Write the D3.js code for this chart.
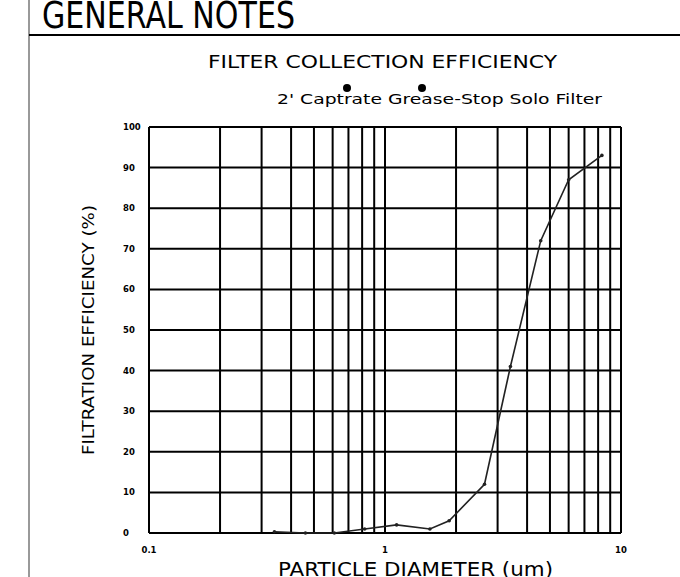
<!DOCTYPE html>
<html>
<head>
<meta charset="utf-8">
<script src="https://cdn.jsdelivr.net/npm/d3@7"></script>
<style>
  body { margin: 0; background: #fff; }
  svg { display: block; }
  text { font-family: "DejaVu Sans", sans-serif; fill: #000; }
</style>
</head>
<body>
<script>
// Define SVG area dimensions
var svgWidth = 680;
var svgHeight = 577;

// chart data
var particleSize = [0.34, 0.46, 0.61, 0.82, 1.12, 1.55, 1.87, 2.64, 3.4, 4.57, 6.0, 8.3];
var efficiency = [0.3, 0, 0, 1, 2, 1, 3, 12, 41, 72, 87, 93];
var xTickLabels = [0.1, 1, 10];
var yTickLabels = [0, 10, 20, 30, 40, 50, 60, 70, 80, 90, 100];

// plot box
var plot = { left: 149, right: 621, top: 127, bottom: 533 };

var svg = d3.select("body")
  .append("svg")
  .attr("width", svgWidth)
  .attr("height", svgHeight);

// page frame (drawing sheet border)
svg.append("line")
  .attr("x1", 29).attr("x2", 29)
  .attr("y1", 0).attr("y2", svgHeight)
  .attr("stroke", "#777").attr("stroke-width", 1.5);
svg.append("line")
  .attr("x1", 29).attr("x2", svgWidth)
  .attr("y1", 35).attr("y2", 35)
  .attr("stroke", "#000").attr("stroke-width", 2);

svg.append("text")
  .attr("x", 42).attr("y", 28)
  .attr("font-size", 37)
  .attr("textLength", 253)
  .attr("lengthAdjust", "spacingAndGlyphs")
  .text("GENERAL NOTES");

// titles
svg.append("text")
  .attr("x", 208).attr("y", 68)
  .attr("font-size", 18)
  .attr("textLength", 349)
  .attr("lengthAdjust", "spacingAndGlyphs")
  .text("FILTER COLLECTION EFFICIENCY");

svg.append("text")
  .attr("x", 277).attr("y", 104)
  .attr("font-size", 14)
  .attr("textLength", 325)
  .attr("lengthAdjust", "spacingAndGlyphs")
  .text("2' Captrate Grease-Stop Solo Filter");

// stray dots above the subtitle
svg.selectAll("circle.dot")
  .data([347, 422])
  .enter()
  .append("circle")
  .attr("class", "dot")
  .attr("cx", d => d)
  .attr("cy", 88)
  .attr("r", 4)
  .attr("fill", "#000");

// scales
var xScale = d3.scaleLog()
  .domain([0.1, 10])
  .range([plot.left, plot.right]);

var yScale = d3.scaleLinear()
  .domain([0, 100])
  .range([plot.bottom, plot.top]);

var grid = svg.append("g");

// vertical grid lines at every log minor tick
grid.selectAll("line.vx")
  .data(xScale.ticks())
  .enter()
  .append("line")
  .attr("x1", d => xScale(d))
  .attr("x2", d => xScale(d))
  .attr("y1", plot.top)
  .attr("y2", plot.bottom)
  .attr("stroke", "#000")
  .attr("stroke-width", 2);

// horizontal grid lines
grid.selectAll("line.hy")
  .data(yTickLabels)
  .enter()
  .append("line")
  .attr("x1", plot.left)
  .attr("x2", plot.right)
  .attr("y1", d => yScale(d))
  .attr("y2", d => yScale(d))
  .attr("stroke", "#000")
  .attr("stroke-width", 2);

// tick labels
svg.selectAll("text.ylab")
  .data(yTickLabels)
  .enter()
  .append("text")
  .attr("x", 123)
  .attr("y", d => yScale(d) + 3)
  .attr("font-size", 8.5)
  .attr("font-weight", "bold")
  .text(d => d);

svg.selectAll("text.xlab")
  .data(xTickLabels)
  .enter()
  .append("text")
  .attr("x", d => xScale(d))
  .attr("y", 553)
  .attr("text-anchor", "middle")
  .attr("font-size", 8.5)
  .attr("font-weight", "bold")
  .text(d => d);

// axis titles
svg.append("text")
  .attr("transform", "translate(94, 330) rotate(-90)")
  .attr("text-anchor", "middle")
  .attr("font-size", 16)
  .attr("textLength", 250)
  .attr("lengthAdjust", "spacingAndGlyphs")
  .text("FILTRATION EFFICIENCY (%)");

svg.append("text")
  .attr("x", 278).attr("y", 576)
  .attr("font-size", 20)
  .attr("textLength", 275)
  .attr("lengthAdjust", "spacingAndGlyphs")
  .text("PARTICLE DIAMETER (um)");

// efficiency curve
var points = particleSize.map((d, i) => ({ size: d, eff: efficiency[i] }));

var drawLine = d3.line()
  .x(d => xScale(d.size))
  .y(d => yScale(d.eff));

svg.append("path")
  .datum(points)
  .attr("d", drawLine)
  .attr("fill", "none")
  .attr("stroke", "#222")
  .attr("stroke-width", 1.6);

svg.selectAll("circle.pt")
  .data(points)
  .enter()
  .append("circle")
  .attr("class", "pt")
  .attr("cx", d => xScale(d.size))
  .attr("cy", d => yScale(d.eff))
  .attr("r", 1.8)
  .attr("fill", "#222");
</script>
</body>
</html>
